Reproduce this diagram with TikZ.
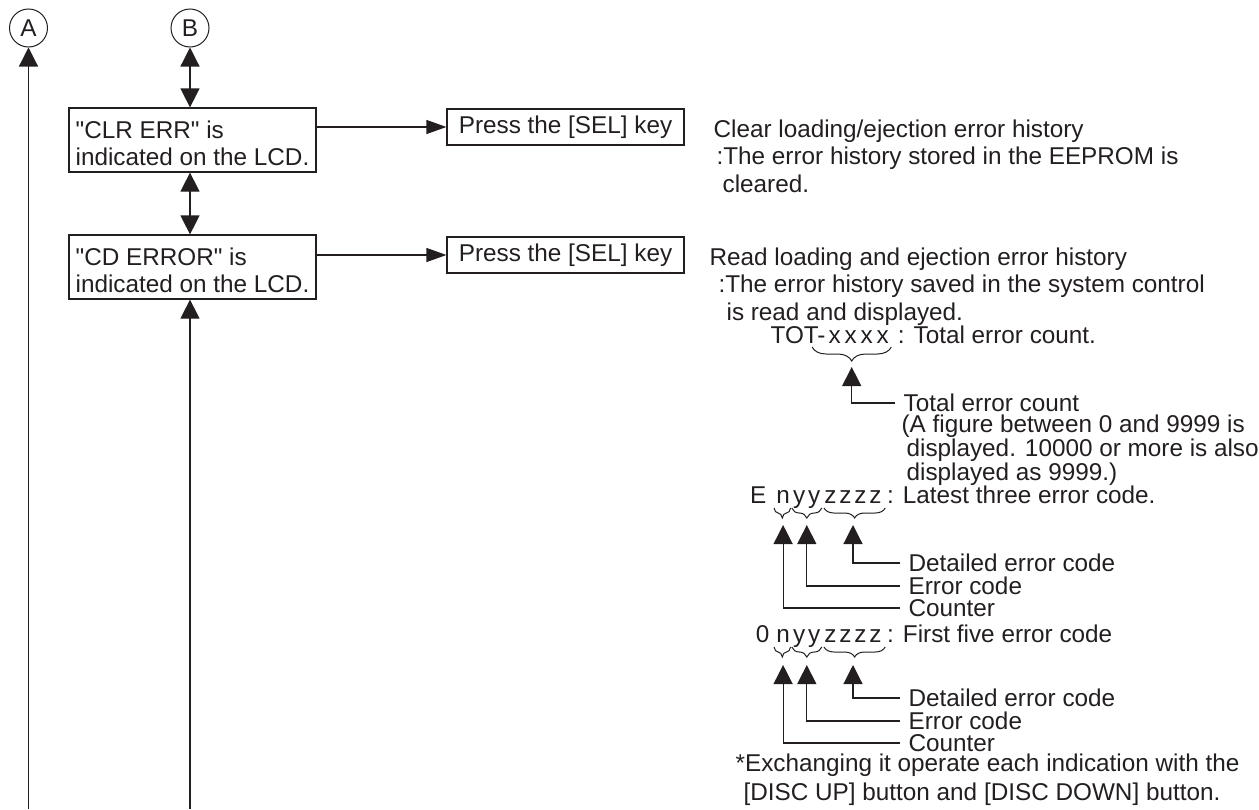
\documentclass[tikz,border=0pt]{standalone}
\usepackage{fontspec}
\setmainfont{Liberation Sans}
\usepackage{xcolor}
\usepackage{tikz}
\usetikzlibrary{positioning, arrows.meta, decorations.pathreplacing}
\definecolor{ink}{HTML}{231F20}
\newcommand{\codecell}[2][7.5pt]{\makebox[#1]{#2}}

\begin{document}
\begin{tikzpicture}[x=0.5pt, y=-0.5pt, line width=0.6pt, color=ink,
    font=\fontsize{12.15}{13.75}\selectfont,
    every node/.style={inner sep=0pt},
    conn/.style={circle, draw, line width=0.5pt, minimum size=19pt},
    lcdbox/.style={draw, align=left, minimum width=123.5pt,
      text height=28.75pt, text depth=3.25pt, font=\fontsize{12.15}{13.5}\selectfont},
    keybox/.style={draw, minimum width=118.5pt, minimum height=18pt},
    txt/.style={anchor=base west, align=left},
    note/.style={anchor=base west, align=left, font=\fontsize{12.15}{12}\selectfont},
    lbl/.style={anchor=west, inner xsep=4pt},
    code/.style={anchor=base west},
    vup/.style={-{Triangle[length=9.5pt,width=9.5pt]}},
    vboth/.style={{Triangle[length=9.5pt,width=9.5pt]}-{Triangle[length=9.5pt,width=9.5pt]}},
    hright/.style={-{Triangle[length=10pt,width=7pt]}},
    brc/.style={decorate, decoration={brace, mirror, amplitude=5pt}, line width=0.5pt}]
  \useasboundingbox (0,0) rectangle (1259,809);

  % connectors A and B
  \node[conn] (A) at (28.5,28) {A};
  \node[conn] (B) at (190,28) {B};

  % LCD states
  \node[lcdbox] (clr) at (192.5,140) {\textquotedbl CLR ERR\textquotedbl{} is\\indicated on the LCD.};
  \node[lcdbox] (cde) at (192.5,267) {\textquotedbl CD ERROR\textquotedbl{} is\\indicated on the LCD.};

  \node[keybox] (sel1) at (565.5,127) {Press the [SEL] key};
  \node[keybox] (sel2) at (565.5,255) {Press the [SEL] key};

  \coordinate (abot) at (28.5,809);
  \coordinate (bbot) at (190,809);
  \draw[vup] (abot) -- (A.south);
  \draw[vboth] (B.south) -- (B.south |- clr.north);
  \draw[vboth] (B |- clr.south) -- (B |- cde.north);
  \draw[vup] (bbot) -- (bbot |- cde.south);
  \draw[hright] (clr.east |- sel1.west) -- (sel1.west);
  \draw[hright] (cde.east |- sel2.west) -- (sel2.west);

  % descriptions (placed at the last baseline)
  \node[txt] (clrtxt) at (713,192) {Clear loading/ejection error history\\
    \hspace*{1.5pt}:The error history stored in the EEPROM is\\
    \hspace*{4.5pt}cleared.};
  \node[txt] (readtxt) at (709,320) {Read loading and ejection error history\\
    \hspace*{4.5pt}:The error history saved in the system control\\
    \hspace*{8.5pt}is read and displayed.};

  % total count
  \node[code] (tot) at (770,343) {TOT-};
  \node[code] (totx) at (tot.base east) {\codecell[8pt]{x}\codecell[8pt]{x}\codecell[8pt]{x}\codecell[8pt]{x}};
  \node[code] (totc) at ([xshift=3pt]totx.base east) {: Total error count.};
  \draw[brc, decoration={amplitude=7pt}] ([xshift=-7pt,yshift=-2pt]totx.base west) -- ([yshift=-2pt]totx.base east);
  \coordinate (tottip) at ([xshift=-3.5pt,yshift=-12pt]totx.base);
  \node[lbl] (totlbl) at (895,403) {Total error count};
  \node[note] (totnote) at (901,480) {(A figure between 0 and 9999 is\\
    \hspace*{2.5pt}displayed. 10000 or more is also\\
    \hspace*{2.5pt}displayed as 9999.)};
  \draw[vup] (totlbl.west) -| (tottip);

  % latest three
  \node[code] (n1) at (775,503) {\codecell{n}};
  \node[code] (y1) at (n1.base east) {\codecell{y}\codecell{y}};
  \node[code] (z1) at (y1.base east) {\codecell{z}\codecell{z}\codecell{z}\codecell{z}};
  \node[code, anchor=base east] (e1) at ([xshift=-4pt]n1.base west) {E};
  \node[code] (late) at ([xshift=1.5pt]z1.base east) {: Latest three error code.};
  \draw[brc] ([xshift=-0.5pt,yshift=-2.5pt]n1.base west) -- ([xshift=-0.3pt,yshift=-2.5pt]n1.base east);
  \draw[brc] ([xshift=0.3pt,yshift=-2.5pt]y1.base west) -- ([xshift=-0.3pt,yshift=-2.5pt]y1.base east);
  \draw[brc] ([xshift=0.8pt,yshift=-2.5pt]z1.base west) -- ([xshift=0.8pt,yshift=-2.5pt]z1.base east);
  \coordinate (ntip1) at ([yshift=-11pt]n1.base);
  \coordinate (ytip1) at ([yshift=-11pt]y1.base);
  \coordinate (ztip1) at ([yshift=-11pt]z1.base);
  \node[lbl] (det1) at (900,563) {Detailed error code};
  \node[lbl] (err1) at (900,586) {Error code};
  \node[lbl] (cnt1) at (900,608) {Counter};
  \draw[vup] (det1.west) -| (ztip1);
  \draw[vup] (err1.west) -| (ytip1);
  \draw[vup] (cnt1.west) -| (ntip1);

  % first five
  \node[code] (n2) at (775,642) {\codecell{n}};
  \node[code] (y2) at (n2.base east) {\codecell{y}\codecell{y}};
  \node[code] (z2) at (y2.base east) {\codecell{z}\codecell{z}\codecell{z}\codecell{z}};
  \node[code, anchor=base east] (o2) at ([xshift=-2.5pt]n2.base west) {0};
  \node[code] (first) at ([xshift=1.5pt]z2.base east) {: First five error code};
  \draw[brc] ([xshift=-0.5pt,yshift=-2.5pt]n2.base west) -- ([xshift=-0.3pt,yshift=-2.5pt]n2.base east);
  \draw[brc] ([xshift=0.3pt,yshift=-2.5pt]y2.base west) -- ([xshift=-0.3pt,yshift=-2.5pt]y2.base east);
  \draw[brc] ([xshift=0.8pt,yshift=-2.5pt]z2.base west) -- ([xshift=0.8pt,yshift=-2.5pt]z2.base east);
  \coordinate (ntip2) at ([yshift=-11.5pt]n2.base);
  \coordinate (ytip2) at ([yshift=-11.5pt]y2.base);
  \coordinate (ztip2) at ([yshift=-11.5pt]z2.base);
  \node[lbl] (det2) at (900,698) {Detailed error code};
  \node[lbl] (err2) at (900,721) {Error code};
  \node[lbl] (cnt2) at (900,743) {Counter};
  \draw[vup] (det2.west) -| (ztip2);
  \draw[vup] (err2.west) -| (ytip2);
  \draw[vup] (cnt2.west) -| (ntip2);

  \node[txt, font=\fontsize{12.15}{14.5}\selectfont] (xnote) at (735,800)
    {*Exchanging it operate each indication with the\\
    \hspace*{4pt}[DISC UP] button and [DISC DOWN] button.};
\end{tikzpicture}
\end{document}
